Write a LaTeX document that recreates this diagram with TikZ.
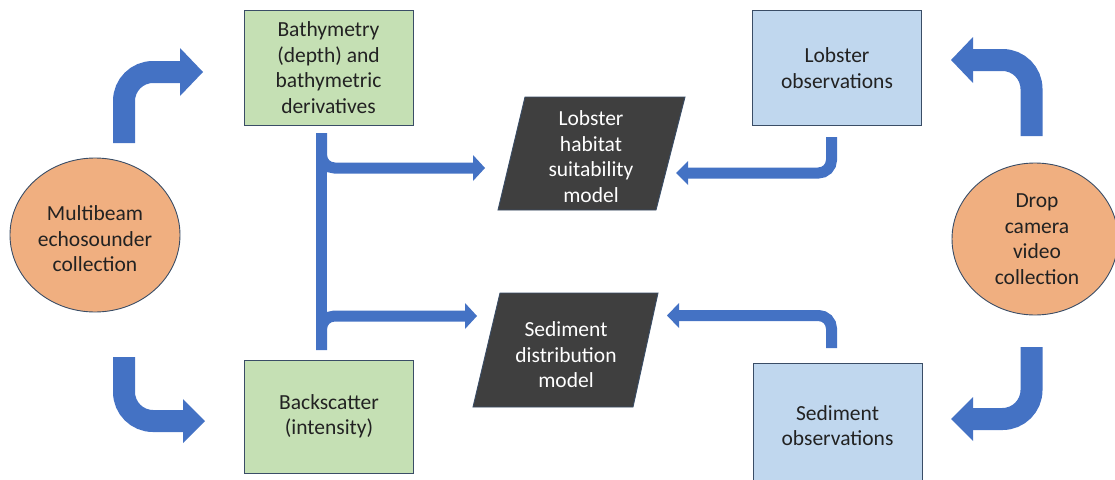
\documentclass[tikz,border=0pt]{standalone}
\usepackage{fontspec}
\setmainfont{Carlito}
\usetikzlibrary{shapes.geometric}
\definecolor{arrowblue}{HTML}{4472C4}
\definecolor{boxgreen}{HTML}{C5E0B4}
\definecolor{boxblue}{HTML}{C0D7EE}
\definecolor{ellorange}{HTML}{F0AF80}
\definecolor{darkpar}{HTML}{3F3F3F}
\definecolor{edgecol}{HTML}{3A4D66}
\definecolor{txtcol}{HTML}{222222}
\begin{document}
\begin{tikzpicture}[x=1pt,y=-1pt,
  txt/.style={font=\fontsize{21.5}{25.5}\selectfont, align=center, text=txtcol, inner sep=0},
  wtxt/.style={txt, text=white},
  databox/.style={draw=edgecol, line width=0.9pt, minimum width=169, minimum height=115, inner sep=0},
  ellnode/.style={ellipse, draw=edgecol, line width=0.9pt, fill=ellorange, inner sep=0},
  bigarrow/.style={draw=arrowblue, line width=22pt, rounded corners=29},
  thinarrow/.style={draw=arrowblue, line width=11pt, rounded corners=13},
  head/.style={fill=arrowblue},
  par/.style={fill=darkpar, draw=edgecol, line width=0.9pt}]
\useasboundingbox (0,0) rectangle (1115,479);
\clip (0,0) rectangle (1115,479);

% ellipses
\node[ellnode, minimum width=170, minimum height=154] (mbes) at (95,235) {};
\node[txt] (mbestxt) at (95,239) {Multibeam\\echosounder\\collection};
\node[ellnode, minimum width=166, minimum height=152] (cam) at (1035,239) {};
\node[txt] (camtxt) at (1037,239) {Drop\\camera\\video\\collection};

% data boxes
\node[databox, fill=boxgreen] (bathy) at (328.5,67.5) {};
\node[txt] at (bathy) {Bathymetry\\(depth) and\\bathymetric\\derivatives};
\node[databox, fill=boxgreen, minimum height=113] (back) at (329,416.5) {};
\node[txt] at (back) {Backscatter\\(intensity)};
\node[databox, fill=boxblue] (lobobs) at (837,67.5) {};
\node[txt] at (837,68) {Lobster\\observations};
\node[databox, fill=boxblue, minimum height=125] (sedobs) at (837.5,425.5) {};
\node[txt] at (sedobs) {Sediment\\observations};

% model parallelograms
\path[par] (525,97) -- (685,97) -- (656,210) -- (498,210) -- cycle;
\node[wtxt] (lobmod) at (591,156.5) {Lobster\\habitat\\suitability\\model};
\path[par] (500,293) -- (658,293) -- (633,407) -- (473,407) -- cycle;
\node[wtxt] (sedmod) at (566,355) {Sediment\\distribution\\model};

% bent arrows from multibeam
\coordinate (a1s) at (124,143); \coordinate (a1e) at (180,72);
\draw[bigarrow] (a1s) |- (a1e);
\fill[head] (180,48) -- (203,72) -- (180,96) -- cycle;
\coordinate (a2s) at (124,357); \coordinate (a2e) at (183,421);
\draw[bigarrow] (a2s) |- (a2e);
\fill[head] (183,399) -- (205,421) -- (183,443) -- cycle;

% bent arrows from camera
\coordinate (a3s) at (1031.5,136); \coordinate (a3e) at (973,60);
\draw[bigarrow] (a3s) |- (a3e);
\fill[head] (973,37) -- (951,60) -- (973,83) -- cycle;
\coordinate (a4s) at (1031.5,347); \coordinate (a4e) at (973,419);
\draw[bigarrow] (a4s) |- (a4e);
\fill[head] (973,397) -- (951,419) -- (973,441) -- cycle;

% bracket from bathymetry/backscatter to models
\coordinate (bt) at (321.5,133); \coordinate (bb) at (321.5,350);
\draw[thinarrow] (bt) -- (bb);
\coordinate (b1e) at (473,168);
\draw[thinarrow] (bt) |- (b1e);
\fill[head] (473,155) -- (485,168) -- (473,181) -- cycle;
\coordinate (b2e) at (465,316);
\draw[thinarrow] (bb) |- (b2e);
\fill[head] (465,303) -- (477,316) -- (465,329) -- cycle;

% arrows from observations to models
\coordinate (c1s) at (831.5,137); \coordinate (c1e) at (688,173);
\draw[thinarrow] (c1s) |- (c1e);
\fill[head] (688,161) -- (676,173) -- (688,185) -- cycle;
\coordinate (c2s) at (831.5,348); \coordinate (c2e) at (679,315.5);
\draw[thinarrow] (c2s) |- (c2e);
\fill[head] (679,303) -- (667,315.5) -- (679,328) -- cycle;
\end{tikzpicture}
\end{document}
